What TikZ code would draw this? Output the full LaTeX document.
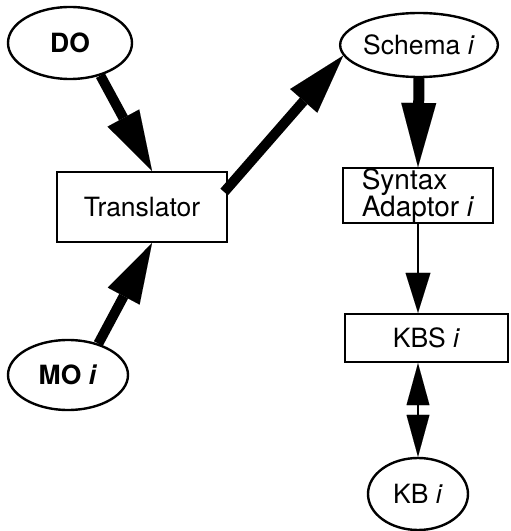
\documentclass[tikz,border=0pt]{standalone}
\usepackage{fontspec}
\setmainfont{TeX Gyre Heros}
\usetikzlibrary{arrows.meta,shapes.geometric,calc}
\begin{document}
\begin{tikzpicture}[x=1pt,y=1pt,
  lbl/.style={font=\fontsize{26.5}{23}\selectfont},
  oval/.style={ellipse,draw,line width=2.4pt,inner sep=0pt,lbl},
  boxnode/.style={rectangle,draw,line width=2.4pt,inner sep=0pt,lbl},
  thick arrow/.style={line width=10pt,-{Triangle[length=60pt,width=36pt,line width=0.01pt]}},
  thin arrow/.style={line width=2pt,-{Triangle[length=40pt,width=25pt,line width=0.01pt]}},
  both arrow/.style={line width=2pt,{Triangle[length=42pt,width=23pt,line width=0.01pt]}-{Triangle[length=42pt,width=23pt,line width=0.01pt]}}
]
\useasboundingbox (0,0) rectangle (511,531);
\node[oval,minimum width=124pt,minimum height=72pt,font=\fontsize{26.5}{23}\selectfont\bfseries] (do) at (70,488) {DO};
\node[oval,minimum width=148pt,minimum height=64pt] (schema) at (419,486) {Schema \textit{i}};
\node[boxnode,minimum width=170pt,minimum height=70pt] (trans) at (142,324) {Translator};
\node[boxnode,minimum width=150pt,minimum height=49pt,align=left,font=\fontsize{28}{23}\selectfont] (syn) at (418,335.5) {Syntax\\Adaptor \textit{i}};
\node[boxnode,minimum width=163pt,minimum height=48pt] (kbs) at (426.5,193) {KBS \textit{i}};
\node[oval,minimum width=100pt,minimum height=72pt] (kb) at (418,37) {KB \textit{i}};
\node[oval,minimum width=120pt,minimum height=70pt,font=\fontsize{26.5}{23}\selectfont\bfseries] (mo) at (68,156) {MO \textit{i}};
\draw[thick arrow] (do.-47) -- ([xshift=10pt]trans.north);
\draw[thick arrow] (mo.46) -- ([xshift=10pt]trans.south);
\draw[thick arrow] ([yshift=15pt,xshift=-4pt]trans.east) -- (schema.188);
\draw[line width=11pt,-{Triangle[length=64pt,width=35pt,line width=0.01pt]}] (schema.south) -- (syn.north);
\draw[thin arrow] (syn.south) -- (syn.south |- kbs.north);
\draw[both arrow] (kb.north |- kbs.south) -- (kb.north);
\end{tikzpicture}
\end{document}
